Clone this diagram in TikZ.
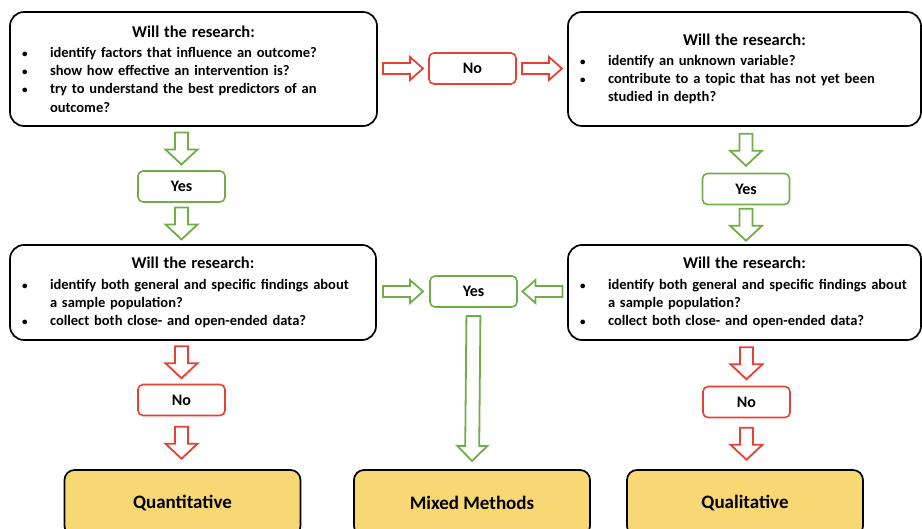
\documentclass[tikz,border=0pt]{standalone}
\usepackage{fontspec}
\setmainfont{Carlito}
\usetikzlibrary{calc}

\definecolor{okgreen}{RGB}{112,173,71}
\definecolor{nored}{RGB}{232,64,52}
\definecolor{methodfill}{RGB}{248,215,117}

% bullet line and continuation line inside a question box
\newcommand{\qitem}{\par\noindent\makebox[30pt][l]{\hspace{2pt}{\fontsize{11}{11}\selectfont\textbullet}}}
\newcommand{\qmore}{\par\noindent\hspace*{30pt}}
% heading line of a question box
\newcommand{\qhead}{{\centering\fontsize{16.5}{18}\selectfont Will the research:\par}\vspace{2pt}}

% hollow block arrow between two points
\newcommand{\fatarrow}[3]{%
  \draw[#1] ($#2!0.5!#3$) coordinate (fm)
    ($(fm)!\falen/2!#2$) coordinate (fa)
    ($(fm)!\falen/2!#3$) coordinate (fb)
    ($(fb)!\fahead!(fa)$) coordinate (fc)
    ($(fa)!\fashaft!90:(fb)$) -- ($(fc)!\fashaft!90:(fb)$) -- ($(fc)!\fawide!90:(fb)$) -- (fb)
    -- ($(fc)!\fawide!-90:(fb)$) -- ($(fc)!\fashaft!-90:(fb)$) -- ($(fa)!\fashaft!-90:(fb)$) -- cycle;}

\tikzset{
  question/.style={draw, line width=1.7pt, rounded corners=14pt, align=left, inner xsep=10pt,
    font=\bfseries\fontsize{14.5}{18.2}\selectfont},
  answer/.style={draw, line width=1.6pt, rounded corners=5pt, minimum width=87pt, minimum height=31pt,
    font=\bfseries\fontsize{16}{18}\selectfont},
  yesbox/.style={answer, draw=okgreen},
  nobox/.style={answer, draw=nored},
  method/.style={draw, line width=1.7pt, fill=methodfill, rounded corners=10pt, minimum width=236pt,
    minimum height=66pt, font=\bfseries\fontsize{19}{20}\selectfont},
  greenarrow/.style={draw=okgreen, fill=white, line width=1.8pt, line join=miter},
  redarrow/.style={draw=nored, fill=white, line width=1.8pt, line join=miter},
  vsize/.code={\def\falen{32pt}\def\fashaft{6.5pt}\def\fawide{16pt}\def\fahead{15pt}},
  hsize/.code={\def\falen{40pt}\def\fashaft{5.5pt}\def\fawide{11.5pt}\def\fahead{13pt}},
  longsize/.code={\def\falen{145pt}\def\fashaft{7pt}\def\fawide{15pt}\def\fahead{15pt}},
}

\begin{document}
\begin{tikzpicture}[x=1pt,y=-1pt]
  \clip (0,0) rectangle (922,529);

  % questions
  \node[question, text width=347pt, minimum height=114pt] (boxA) at (193.5,69)
    {\qhead\qitem identify factors that influence an outcome?\qitem show how effective an intervention is?\qitem try to understand the best predictors of an\qmore outcome?\par};
  \node[question, text width=333pt, minimum height=114pt] (boxB) at (744.5,69)
    {\qhead\qitem identify an unknown variable?\qitem contribute to a topic that has not yet been\qmore studied in depth?\par};
  \node[question, text width=346pt, minimum height=95pt] (boxC) at (193,292.5)
    {\qhead\qitem identify both general and specific findings about\qmore a sample population?\qitem collect both close- and open-ended data?\par};
  \node[question, text width=333pt, minimum height=95pt] (boxD) at (744.5,292.5)
    {\qhead\qitem identify both general and specific findings about\qmore a sample population?\qitem collect both close- and open-ended data?\par};

  % answers
  \node[nobox] (noT) at (472.5,68.5) {No};
  \node[yesbox] (yesA) at (181.5,186.5) {Yes};
  \node[yesbox] (yesB) at (746,189) {Yes};
  \node[yesbox] (yesM) at (473.5,291.5) {Yes};
  \node[nobox] (noA) at (181.5,400) {No};
  \node[nobox] (noB) at (746.5,402) {No};

  % outcomes
  \node[method] (quant) at (182.5,503) {Quantitative};
  \node[method] (mixed) at (472,503) {Mixed Methods};
  \node[method] (qual) at (745,503) {Qualitative};

  % arrows
  \fatarrow{redarrow,hsize}{(boxA.east |- noT)}{(noT.west)}
  \fatarrow{redarrow,hsize}{(noT.east)}{(boxB.west |- noT)}
  \fatarrow{greenarrow,vsize}{(boxA.south -| yesA)}{(yesA.north)}
  \fatarrow{greenarrow,vsize}{(yesA.south)}{(boxC.north -| yesA)}
  \fatarrow{greenarrow,vsize}{(boxB.south -| yesB)}{(yesB.north)}
  \fatarrow{greenarrow,vsize}{(yesB.south)}{(boxD.north -| yesB)}
  \fatarrow{greenarrow,hsize}{(boxC.east |- yesM)}{(yesM.west)}
  \fatarrow{greenarrow,hsize}{(boxD.west |- yesM)}{(yesM.east)}
  \fatarrow{greenarrow,longsize}{(yesM.south)}{(mixed.north)}
  \fatarrow{redarrow,vsize}{(boxC.south -| noA)}{(noA.north)}
  \fatarrow{redarrow,vsize}{(noA.south)}{(quant.north -| noA)}
  \fatarrow{redarrow,vsize}{(boxD.south -| noB)}{(noB.north)}
  \fatarrow{redarrow,vsize}{(noB.south)}{(qual.north -| noB)}
\end{tikzpicture}
\end{document}
